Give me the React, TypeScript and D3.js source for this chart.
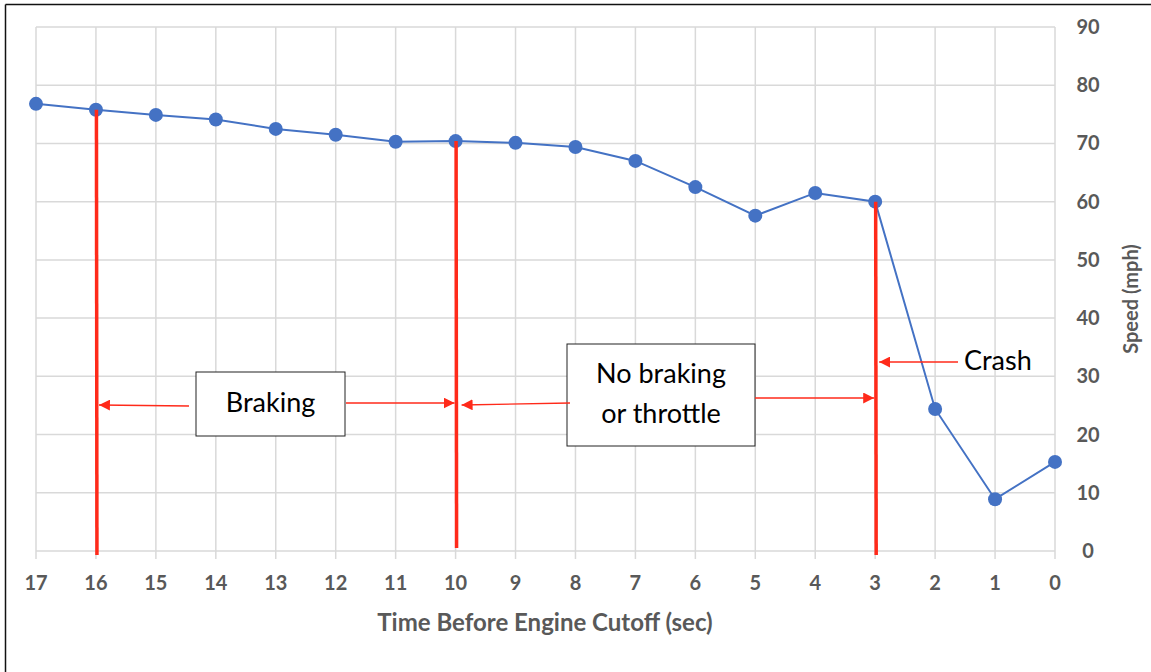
import React from "react";
import * as d3 from "d3";

const times = [17, 16, 15, 14, 13, 12, 11, 10, 9, 8, 7, 6, 5, 4, 3, 2, 1, 0];
const speeds = [76.8, 75.8, 74.9, 74.1, 72.5, 71.5, 70.3, 70.4, 70.1, 69.4, 67.0, 62.5, 57.6, 61.5, 60.0, 24.4, 8.9, 15.3];
const yTicks = [0, 10, 20, 30, 40, 50, 60, 70, 80, 90];
const phaseLines = [16, 10, 3];
const xTitle = "Time Before Engine Cutoff (sec)";
const yTitle = "Speed (mph)";

const W = 1151, H = 672;
const FONT = "Lato, 'Open Sans', sans-serif";
const GRAY = "#595959";
const RED = "#ff2a1a";

export default function App() {
  const x = d3.scaleLinear().domain([17, 0]).range([36, 1055]);
  const y = d3.scaleLinear().domain([0, 90]).range([551, 27]);
  const line = d3.line<number>().x((_, i) => x(times[i])).y((d) => y(d));

  const arrow = (x1: number, y1: number, x2: number, y2: number, key: string) => (
    <line key={key} x1={x1} y1={y1} x2={x2} y2={y2} stroke={RED} strokeWidth={1.3} markerEnd="url(#ah)" />
  );

  return (
    <svg width={W} height={H} style={{ position: "absolute", left: 0, top: 0, background: "#fff" }}>
      <defs>
        <marker id="ah" viewBox="0 0 10 10" refX="10" refY="5" markerWidth="11" markerHeight="11" markerUnits="userSpaceOnUse" orient="auto">
          <path d="M0,0 L10,5 L0,10 z" fill={RED} />
        </marker>
      </defs>
      <rect x={0} y={0} width={W} height={H} fill="#fff" />
      <line x1={5.5} y1={4.5} x2={W} y2={4.5} stroke="#111" strokeWidth={1.5} />
      <line x1={5.5} y1={4.5} x2={5.5} y2={H} stroke="#111" strokeWidth={1.5} />

      {/* grid */}
      {yTicks.map((t) => (
        <line key={"gy" + t} x1={x(17)} x2={x(0)} y1={y(t)} y2={y(t)} stroke="#d9d9d9" strokeWidth={1.5} />
      ))}
      {times.map((t) => (
        <line key={"gx" + t} x1={x(t)} x2={x(t)} y1={y(90)} y2={y(0) + 8} stroke="#d9d9d9" strokeWidth={1.5} />
      ))}

      {/* tick labels */}
      {times.map((t) => (
        <text key={"tx" + t} x={x(t)} y={590} textAnchor="middle" fontFamily={FONT} fontWeight={700} fontSize={20} fill={GRAY}>
          {t}
        </text>
      ))}
      {yTicks.map((t) => (
        <text key={"ty" + t} x={1088} y={y(t) + 7} textAnchor="middle" fontFamily={FONT} fontWeight={700} fontSize={20} fill={GRAY}>
          {t}
        </text>
      ))}
      <text x={545} y={631} textAnchor="middle" fontFamily={FONT} fontWeight={700} fontSize={24} fill={GRAY}>
        {xTitle}
      </text>
      <text transform={`translate(1138, ${y(45) + 10}) rotate(-90)`} textAnchor="middle" fontFamily={FONT} fontWeight={700} fontSize={20} fill={GRAY}>
        {yTitle}
      </text>

      {/* series */}
      <path d={line(speeds) || ""} fill="none" stroke="#4472c4" strokeWidth={2} />
      {speeds.map((s, i) => (
        <circle key={"p" + i} cx={x(times[i])} cy={y(s)} r={7} fill="#4472c4" />
      ))}

      {/* red phase lines */}
      {phaseLines.map((t, i) => {
        const idx = times.indexOf(t);
        const bottom = t === 10 ? y(0) - 3 : y(0) + 4;
        return <line key={"rl" + i} x1={x(t) + 0.5} x2={x(t) + 1} y1={y(speeds[idx])} y2={bottom} stroke={RED} strokeWidth={3.5} />;
      })}

      {/* annotations */}
      <rect x={196} y={372} width={149} height={64} fill="#fff" stroke="#222" strokeWidth={1} />
      <text x={270.5} y={412} textAnchor="middle" fontFamily={FONT} fontSize={27} fill="#000">Braking</text>
      {arrow(189, 406, x(16) + 3, 405, "a1")}
      {arrow(346, 403, x(10) - 1, 403, "a2")}

      <rect x={567} y={344} width={188} height={102} fill="#fff" stroke="#222" strokeWidth={1} />
      <text x={661} y={383} textAnchor="middle" fontFamily={FONT} fontSize={27} fill="#000">No braking</text>
      <text x={661} y={423} textAnchor="middle" fontFamily={FONT} fontSize={27} fill="#000">or throttle</text>
      {arrow(570, 403, x(10) + 6, 405, "a3")}
      {arrow(755, 398, x(3) - 1, 398, "a4")}

      <text x={964} y={370} fontFamily={FONT} fontSize={27} fill="#000">Crash</text>
      {arrow(958, 362, x(3) + 4, 362, "a5")}
    </svg>
  );
}
